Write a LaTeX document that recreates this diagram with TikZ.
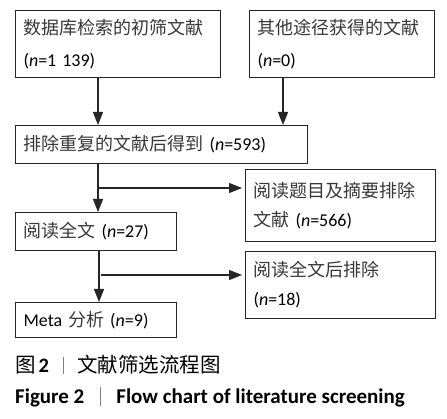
\documentclass[tikz,border=0pt]{standalone}
\usepackage{fontspec}
\setmainfont{Carlito}
\newfontfamily\cjkfont{Noto Sans CJK SC}
\newcommand{\cjk}{\cjkfont\color{black!78}}
\usetikzlibrary{arrows.meta,calc}
\begin{document}
\begin{tikzpicture}[x=1pt,y=-1pt,
  box/.style={draw=black!85, line width=1.1pt, anchor=north west, inner xsep=8pt, inner ysep=0pt,
    align=left, font=\fontsize{18}{29}\selectfont},
  arr/.style={draw=black!85, line width=1.1pt, -{Triangle[width=10pt,length=13pt]}},
  ln/.style={draw=black!85, line width=1.1pt}]
\useasboundingbox (0,0) rectangle (447,419);
\node[box, text width=189pt, minimum height=67pt] (b1) at (15,10)
  {{\cjk 数据库检索的初筛文献}\\[3pt](\textit{n}=1 139)};
\node[box, text width=169pt, minimum height=67pt] (b2) at (249,10)
  {{\cjk 其他途径获得的文献}\\[3pt](\textit{n}=0)};
\node[box, text width=276pt, minimum height=38pt] (b3) at (15,125)
  {{\cjk 排除重复的文献后得到} (\textit{n}=593)};
\node[box, text width=145pt, minimum height=38pt] (b4) at (15,212)
  {{\cjk 阅读全文} (\textit{n}=27)};
\node[box, text width=174pt, minimum height=72pt] (b5) at (245,169)
  {{\cjk 阅读题目及摘要排除}\\{\cjk 文献} (\textit{n}=566)};
\node[box, text width=145pt, minimum height=35pt] (b6) at (15,302)
  {Meta {\cjk 分析} (\textit{n}=9)};
\node[box, text width=174pt, minimum height=67pt] (b7) at (245,251)
  {{\cjk 阅读全文后排除}\\(\textit{n}=18)};
\draw[arr] ([xshift=83pt]b1.south west) -- ([xshift=83pt]b3.north west);
\draw[arr] ([xshift=34pt]b2.south west) -- ([xshift=268pt]b3.north west);
\draw[arr] ([xshift=83pt]b3.south west) -- ([xshift=83pt]b4.north west);
\coordinate (j1) at (99,188);
\draw[arr] (j1) -- ([xshift=-3pt]j1 -| b5.west);
\draw[arr] ([xshift=84pt]b4.south west) -- ([xshift=84pt]b6.north west);
\coordinate (j2) at (101,275);
\draw[arr] (j2) -- ([xshift=-3pt]j2 -| b7.west);
\node[anchor=base west, inner sep=0pt, font=\fontsize{20.5}{22}\selectfont] (cap1) at (15,373)
  {{\cjkfont 图}\hspace{3pt}\textbf{2}\makebox[28pt]{\color{black!50}\rule[-1pt]{0.7pt}{17pt}}{\cjkfont 文献筛选流程图}};
\node[anchor=base west, inner sep=0pt, font=\fontsize{21}{22}\selectfont\bfseries] (cap2) at (15,403)
  {Figure 2\makebox[32pt]{\color{black!50}\rule[-3pt]{0.7pt}{19pt}}Flow chart of literature screening};
\end{tikzpicture}
\end{document}
